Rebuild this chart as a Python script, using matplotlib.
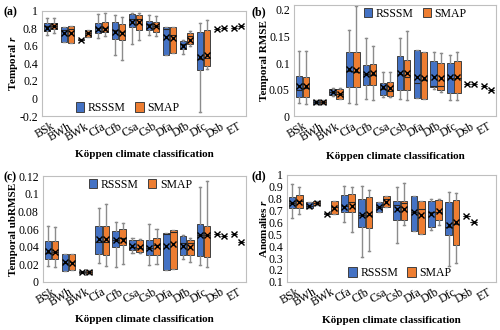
import matplotlib
matplotlib.use('Agg')
import matplotlib.pyplot as plt
from matplotlib.patches import Patch

plt.rcParams['font.family'] = 'Liberation Serif'
plt.rcParams['mathtext.fontset'] = 'custom'
plt.rcParams['mathtext.it'] = 'Liberation Serif:italic:bold'
plt.rcParams['mathtext.rm'] = 'Liberation Serif:bold'

categories = ['BSk', 'BWh', 'BWk', 'Cfa', 'Cfb', 'Csa', 'Csb', 'Dfa', 'Dfb', 'Dfc', 'Dsb', 'ET']

# each row: (whisker low, q1, median, q3, whisker high, mean)
a_rsssm = [(0.72, 0.77, 0.83, 0.86, 0.92, 0.80), (0.64, 0.64, 0.78, 0.81, 0.81, 0.75),
           (0.66, 0.66, 0.67, 0.68, 0.68, 0.67), (0.69, 0.75, 0.80, 0.86, 0.96, 0.79),
           (0.49, 0.68, 0.78, 0.87, 0.95, 0.76), (0.62, 0.81, 0.90, 0.96, 0.97, 0.87),
           (0.72, 0.78, 0.85, 0.88, 0.95, 0.83), (0.49, 0.49, 0.79, 0.81, 0.81, 0.70),
           (0.51, 0.56, 0.62, 0.65, 0.66, 0.60), (-0.15, 0.32, 0.45, 0.76, 0.86, 0.47),
           (0.79, 0.79, 0.79, 0.79, 0.79, 0.79), (0.80, 0.80, 0.80, 0.80, 0.80, 0.80)]
a_smap = [(0.74, 0.79, 0.83, 0.86, 0.92, 0.82), (0.63, 0.63, 0.79, 0.82, 0.82, 0.75),
          (0.70, 0.70, 0.74, 0.78, 0.78, 0.74), (0.71, 0.76, 0.80, 0.87, 0.97, 0.79),
          (0.44, 0.67, 0.76, 0.85, 0.93, 0.75), (0.67, 0.78, 0.90, 0.95, 0.97, 0.87),
          (0.71, 0.76, 0.83, 0.87, 0.94, 0.82), (0.52, 0.52, 0.72, 0.81, 0.81, 0.69),
          (0.60, 0.62, 0.71, 0.74, 0.77, 0.67), (0.34, 0.37, 0.46, 0.78, 0.89, 0.49),
          (0.80, 0.80, 0.80, 0.80, 0.80, 0.80), (0.83, 0.83, 0.83, 0.83, 0.83, 0.83)]

b_rsssm = [(0.025, 0.036, 0.050, 0.075, 0.123, 0.057), (0.023, 0.023, 0.027, 0.030, 0.030, 0.027),
           (0.038, 0.040, 0.045, 0.052, 0.053, 0.046), (0.025, 0.055, 0.085, 0.120, 0.162, 0.089),
           (0.032, 0.058, 0.080, 0.097, 0.147, 0.080), (0.037, 0.040, 0.052, 0.063, 0.083, 0.054),
           (0.032, 0.050, 0.080, 0.114, 0.148, 0.081), (0.035, 0.035, 0.062, 0.125, 0.125, 0.074),
           (0.052, 0.055, 0.057, 0.104, 0.121, 0.074), (0.030, 0.044, 0.072, 0.100, 0.116, 0.073),
           (0.060, 0.060, 0.060, 0.060, 0.060, 0.060), (0.056, 0.056, 0.056, 0.056, 0.056, 0.056)]
b_smap = [(0.022, 0.037, 0.053, 0.073, 0.123, 0.057), (0.023, 0.023, 0.027, 0.030, 0.030, 0.027),
          (0.033, 0.033, 0.042, 0.052, 0.053, 0.042), (0.022, 0.055, 0.083, 0.120, 0.208, 0.087),
          (0.030, 0.058, 0.078, 0.099, 0.132, 0.081), (0.036, 0.038, 0.048, 0.065, 0.083, 0.053),
          (0.030, 0.050, 0.074, 0.105, 0.160, 0.081), (0.033, 0.033, 0.068, 0.120, 0.120, 0.072),
          (0.046, 0.050, 0.057, 0.100, 0.119, 0.071), (0.031, 0.044, 0.072, 0.103, 0.120, 0.074),
          (0.060, 0.060, 0.060, 0.060, 0.060, 0.060), (0.050, 0.050, 0.050, 0.050, 0.050, 0.050)]

c_rsssm = [(0.018, 0.026, 0.033, 0.046, 0.064, 0.035), (0.012, 0.012, 0.021, 0.032, 0.032, 0.022),
           (0.010, 0.010, 0.011, 0.012, 0.012, 0.011), (0.021, 0.032, 0.045, 0.063, 0.084, 0.049),
           (0.017, 0.040, 0.047, 0.058, 0.068, 0.047), (0.033, 0.036, 0.040, 0.048, 0.050, 0.041),
           (0.019, 0.030, 0.038, 0.047, 0.066, 0.039), (0.014, 0.014, 0.054, 0.055, 0.055, 0.041),
           (0.026, 0.030, 0.044, 0.052, 0.053, 0.041), (0.019, 0.029, 0.053, 0.066, 0.108, 0.053),
           (0.054, 0.054, 0.054, 0.054, 0.054, 0.054), (0.054, 0.054, 0.054, 0.054, 0.054, 0.054)]
c_smap = [(0.017, 0.026, 0.034, 0.046, 0.062, 0.034), (0.013, 0.013, 0.022, 0.032, 0.032, 0.021),
          (0.009, 0.009, 0.011, 0.013, 0.013, 0.011), (0.018, 0.031, 0.045, 0.063, 0.088, 0.049),
          (0.020, 0.042, 0.050, 0.060, 0.067, 0.048), (0.033, 0.034, 0.038, 0.048, 0.049, 0.040),
          (0.020, 0.031, 0.042, 0.050, 0.060, 0.041), (0.015, 0.015, 0.057, 0.059, 0.059, 0.043),
          (0.023, 0.030, 0.044, 0.048, 0.050, 0.040), (0.017, 0.028, 0.053, 0.064, 0.115, 0.053),
          (0.052, 0.052, 0.052, 0.052, 0.052, 0.052), (0.045, 0.045, 0.045, 0.045, 0.045, 0.045)]

d_rsssm = [(0.64, 0.72, 0.76, 0.81, 0.92, 0.76), (0.72, 0.72, 0.74, 0.77, 0.77, 0.74),
           (0.67, 0.67, 0.675, 0.68, 0.68, 0.675), (0.60, 0.69, 0.74, 0.83, 0.91, 0.73),
           (0.31, 0.56, 0.66, 0.80, 0.91, 0.66), (0.69, 0.69, 0.73, 0.77, 0.77, 0.73),
           (0.43, 0.62, 0.75, 0.78, 0.90, 0.71), (0.53, 0.53, 0.69, 0.82, 0.82, 0.69),
           (0.54, 0.56, 0.69, 0.78, 0.80, 0.67), (0.23, 0.49, 0.56, 0.77, 0.86, 0.58),
           (0.65, 0.65, 0.65, 0.65, 0.65, 0.65), None]
d_smap = [(0.67, 0.72, 0.78, 0.83, 0.90, 0.77), (0.75, 0.75, 0.76, 0.78, 0.78, 0.76),
          (0.67, 0.67, 0.73, 0.78, 0.78, 0.72), (0.52, 0.69, 0.77, 0.84, 0.90, 0.74),
          (0.36, 0.55, 0.66, 0.81, 0.87, 0.67), (0.73, 0.73, 0.80, 0.82, 0.82, 0.77),
          (0.58, 0.62, 0.76, 0.78, 0.93, 0.71), (0.50, 0.50, 0.71, 0.78, 0.78, 0.66),
          (0.58, 0.62, 0.69, 0.79, 0.80, 0.70), (0.26, 0.41, 0.59, 0.79, 0.85, 0.60),
          (0.60, 0.60, 0.60, 0.60, 0.60, 0.60), None]

BLUE = '#4472C4'
ORANGE = '#ED7D31'


def to_stats(rows, offset):
    stats = []
    pos = []
    for i, r in enumerate(rows):
        if r is None:
            continue
        lo, q1, med, q3, hi, mean = r
        stats.append(dict(whislo=lo, q1=q1, med=med, q3=q3, whishi=hi, mean=mean))
        pos.append(i + offset)
    return stats, pos


def draw_panel(ax, rsssm, smap, ylim, yticks, ylabel, ylabel_x, legend_xy):
    for rows, off, color in [(rsssm, -0.21, BLUE), (smap, 0.21, ORANGE)]:
        stats, pos = to_stats(rows, off)
        ax.bxp(stats, positions=pos, widths=0.38, showmeans=True, patch_artist=True,
               showfliers=False, capwidths=0.12,
               boxprops=dict(facecolor=color, edgecolor='#404040', linewidth=0.7),
               medianprops=dict(color='#262626', linewidth=0.8),
               meanprops=dict(marker='x', markeredgecolor='black', markersize=4,
                              markeredgewidth=1),
               whiskerprops=dict(color='#8c8c8c', linewidth=1),
               capprops=dict(color='#8c8c8c', linewidth=1))
    ax.set_xlim(-0.5, len(categories) - 0.5)
    ax.set_ylim(*ylim)
    ax.set_yticks(yticks)
    ax.set_yticklabels(['%g' % t for t in yticks], fontsize=8.5)
    ax.set_xticks(range(len(categories)))
    ax.set_xticklabels(categories, rotation=30, ha='right', rotation_mode='anchor', fontsize=8.5)
    ax.tick_params(length=0, pad=3)
    for s in ax.spines.values():
        s.set_color('#bfbfbf')
        s.set_linewidth(0.8)
    ax.set_ylabel(ylabel, fontsize=8, fontweight='bold')
    ax.yaxis.set_label_coords(ylabel_x, 0.5)
    ax.set_xlabel('Köppen climate classification', fontsize=8, fontweight='bold')
    ax.xaxis.label.set_va('center')
    ax.xaxis.set_label_coords(0.5, -0.36)
    handles = [Patch(facecolor=BLUE, edgecolor='#404040', linewidth=0.7, label='RSSSM'),
               Patch(facecolor=ORANGE, edgecolor='#404040', linewidth=0.7, label='SMAP')]
    ax.legend(handles=handles, ncol=2, loc='center', bbox_to_anchor=legend_xy, frameon=False,
              fontsize=8.5, handlelength=0.7, handleheight=0.9, handletextpad=0.3,
              columnspacing=0.8, borderpad=0.1)


fig = plt.figure(figsize=(5, 3.3), dpi=100)
ax_a = fig.add_axes([0.084, 0.648, 0.408, 0.320])
ax_b = fig.add_axes([0.588, 0.648, 0.404, 0.338])
ax_c = fig.add_axes([0.086, 0.146, 0.406, 0.320])
ax_d = fig.add_axes([0.574, 0.146, 0.418, 0.324])

draw_panel(ax_a, a_rsssm, a_smap, (-0.2, 1.0), [-0.2, 0, 0.2, 0.4, 0.6, 0.8, 1],
           'Temporal $r$', -0.108, (0.42, 0.08))
draw_panel(ax_b, b_rsssm, b_smap, (0, 0.21), [0, 0.05, 0.1, 0.15, 0.2],
           'Temporal RMSE', -0.123, (0.6, 0.92))
draw_panel(ax_c, c_rsssm, c_smap, (0, 0.12), [0, 0.02, 0.04, 0.06, 0.08, 0.1, 0.12],
           'Temporal ubRMSE', -0.123, (0.48, 0.92))
draw_panel(ax_d, d_rsssm, d_smap, (0.1, 1.0), [0.1, 0.2, 0.3, 0.4, 0.5, 0.6, 0.7, 0.8, 0.9, 1],
           'Anomalies $r$', -0.086, (0.54, 0.08))

fig.text(0.006, 0.962, '(a)', fontsize=8.5, fontweight='bold', va='center')
fig.text(0.504, 0.962, '(b)', fontsize=8.5, fontweight='bold', va='center')
fig.text(0.006, 0.462, '(c)', fontsize=8.5, fontweight='bold', va='center')
fig.text(0.504, 0.467, '(d)', fontsize=8.5, fontweight='bold', va='center')

fig.savefig('out.png', dpi=100)
